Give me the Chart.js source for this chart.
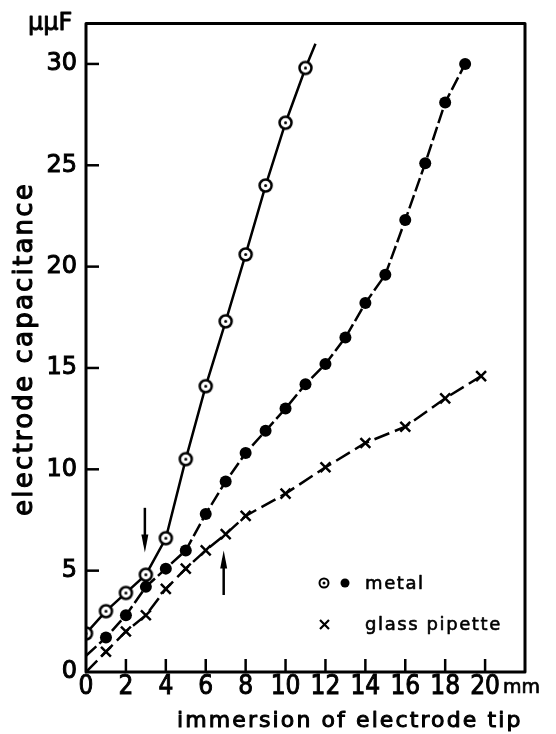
<!DOCTYPE html>
<html>
<head>
<meta charset="utf-8">
<script src="https://cdn.jsdelivr.net/npm/chart.js@4.4.1/dist/chart.umd.min.js"></script>
<style>
  html, body { margin: 0; padding: 0; background: #fff; }
</style>
</head>
<body>
<canvas id="myChart" width="556" height="734"></canvas>
<script>
// data (x in mm, y in µµF)
const openX = [0, 1, 2, 3, 4, 5, 6, 7, 8, 9, 10, 11, 11.5]
const openY = [1.9, 3.0, 3.9, 4.8, 6.6, 10.5, 14.1, 17.3, 20.6, 24.0, 27.1, 29.8, 31.0]
const openMarked = [1, 1, 1, 1, 1, 1, 1, 1, 1, 1, 1, 1, 0]

const dotX = [0, 1, 2, 3, 4, 5, 6, 7, 8, 9, 10, 11, 12, 13, 14, 15, 16, 17, 18, 19]
const dotY = [0.8, 1.7, 2.8, 4.2, 5.1, 6.0, 7.8, 9.4, 10.8, 11.9, 13.0, 14.2, 15.2, 16.5, 18.2, 19.6, 22.3, 25.1, 28.1, 30.0]
const dotMarked = [0, 1, 1, 1, 1, 1, 1, 1, 1, 1, 1, 1, 1, 1, 1, 1, 1, 1, 1, 1]

const glassX = [0, 1, 2, 3, 4, 5, 6, 7, 8, 10, 12, 14, 16, 18, 19.8]
const glassY = [0, 1.0, 2.0, 2.8, 4.1, 5.1, 6.0, 6.8, 7.7, 8.8, 10.1, 11.3, 12.1, 13.5, 14.6]
const glassMarked = [0, 1, 1, 1, 1, 1, 1, 1, 1, 1, 1, 1, 1, 1, 1]

const xTicks = [0, 2, 4, 6, 8, 10, 12, 14, 16, 18, 20]
const yTicks = [0, 5, 10, 15, 20, 25, 30]

// arrows: [x, yFrom, yTo]
const arrows = [[2.95, 8.1, 5.9], [6.9, 3.8, 6.0]]

function ringDot(r, lw) {
  const c = document.createElement('canvas')
  c.width = c.height = 2 * r + 5
  const g = c.getContext('2d')
  const m = c.width / 2
  g.beginPath()
  g.arc(m, m, r, 0, 2 * Math.PI)
  g.fillStyle = '#fff'
  g.fill()
  g.lineWidth = lw
  g.strokeStyle = '#000'
  g.stroke()
  g.beginPath()
  g.arc(m, m, 1.5, 0, 2 * Math.PI)
  g.fillStyle = '#000'
  g.fill()
  return c
}
const ring = ringDot(6, 2.5)
const ringSmall = ringDot(4.5, 2)

function pts(xs, ys) {
  return xs.map((x, i) => ({ x: x, y: ys[i] }))
}

function heavyText(ctx, s, x, y, sw) {
  ctx.fillText(s, x, y)
  ctx.lineWidth = sw
  ctx.strokeText(s, x, y)
}

const decor = {
  id: 'decor',
  afterDraw(chart) {
    const ctx = chart.ctx
    const a = chart.chartArea
    const xs = chart.scales.x
    const ys = chart.scales.y
    ctx.save()
    ctx.strokeStyle = '#000'
    ctx.fillStyle = '#000'
    ctx.lineJoin = 'round'

    // frame
    ctx.lineWidth = 3
    ctx.strokeRect(a.left, a.top, a.right - a.left, a.bottom - a.top)

    // inward ticks
    ctx.lineWidth = 2.5
    yTicks.forEach(v => {
      if (v === 0) return
      const p = ys.getPixelForValue(v)
      ctx.beginPath(); ctx.moveTo(a.left, p); ctx.lineTo(a.left + 13, p); ctx.stroke()
    })
    xTicks.forEach(v => {
      if (v === 0) return
      const p = xs.getPixelForValue(v)
      ctx.beginPath(); ctx.moveTo(p, a.bottom); ctx.lineTo(p, a.bottom - 13); ctx.stroke()
    })

    // arrows
    arrows.forEach(ar => {
      const px = xs.getPixelForValue(ar[0])
      const y1 = ys.getPixelForValue(ar[1])
      const y2 = ys.getPixelForValue(ar[2])
      const dir = y2 > y1 ? 1 : -1
      ctx.lineWidth = 2.5
      ctx.beginPath(); ctx.moveTo(px, y1); ctx.lineTo(px, y2 - dir * 8); ctx.stroke()
      ctx.beginPath()
      ctx.moveTo(px, y2)
      ctx.lineTo(px - 3.5, y2 - dir * 18)
      ctx.lineTo(px + 3.5, y2 - dir * 18)
      ctx.closePath()
      ctx.fill()
    })

    // legend
    ctx.drawImage(ringSmall, 324 - ringSmall.width / 2, 583 - ringSmall.height / 2)
    ctx.beginPath(); ctx.arc(345, 583, 4.5, 0, 2 * Math.PI); ctx.fill()
    ctx.lineWidth = 2.2
    ctx.beginPath()
    ctx.moveTo(320, 620); ctx.lineTo(329, 629)
    ctx.moveTo(329, 620); ctx.lineTo(320, 629)
    ctx.stroke()
    ctx.font = '18px "DejaVu Sans"'
    ctx.letterSpacing = '1.6px'
    ctx.textBaseline = 'alphabetic'
    ctx.textAlign = 'left'
    heavyText(ctx, 'metal', 365, 589, 0.6)
    heavyText(ctx, 'glass pipette', 365, 630, 0.6)

    // unit labels
    ctx.letterSpacing = '0px'
    ctx.font = '24px "DejaVu Sans"'
    heavyText(ctx, 'µµF', 28, 30, 0.9)
    ctx.font = '19px "DejaVu Sans"'
    heavyText(ctx, 'mm', 503, 693, 0.7)

    // axis titles
    ctx.font = '22px "DejaVu Sans"'
    ctx.letterSpacing = '2.1px'
    heavyText(ctx, 'immersion of electrode tip', 177, 727, 1)
    ctx.save()
    ctx.translate(32, 349)
    ctx.rotate(-Math.PI / 2)
    ctx.textAlign = 'center'
    ctx.font = '26px "DejaVu Sans"'
    ctx.letterSpacing = '2.2px'
    heavyText(ctx, 'electrode capacitance', 0, 0, 1.1)
    ctx.restore()

    ctx.restore()
  }
}

const ctx = document.getElementById('myChart')
new Chart(ctx, {
  type: 'line',
  data: {
    datasets: [
      {
        label: 'metal (open)',
        data: pts(openX, openY),
        borderColor: '#000',
        borderWidth: 2.5,
        pointStyle: ring,
        pointRadius: openMarked.map(m => m ? 6 : 0),
        tension: 0
      },
      {
        label: 'metal (filled)',
        data: pts(dotX, dotY),
        borderColor: '#000',
        borderWidth: 2.5,
        borderDash: [14, 4],
        pointStyle: 'circle',
        pointRadius: dotMarked.map(m => m ? 6 : 0),
        pointBackgroundColor: '#000',
        pointBorderWidth: 0,
        tension: 0
      },
      {
        label: 'glass pipette',
        data: pts(glassX, glassY),
        borderColor: '#000',
        borderWidth: 2.5,
        borderDash: [16, 6],
        pointStyle: 'crossRot',
        pointRadius: glassMarked.map(m => m ? 7 : 0),
        pointBorderColor: '#000',
        pointBorderWidth: 2.5,
        tension: 0
      }
    ]
  },
  options: {
    responsive: false,
    animation: false,
    devicePixelRatio: 1,
    layout: { padding: { top: 22, right: 31, left: 0, bottom: 0 } },
    plugins: { legend: { display: false }, tooltip: { enabled: false } },
    scales: {
      x: {
        type: 'linear',
        min: 0,
        max: 22,
        afterBuildTicks: s => { s.ticks = xTicks.map(v => ({ value: v })) },
        afterFit: s => { s.height = 62 },
        grid: { display: false, drawTicks: false },
        border: { display: false },
        ticks: {
          color: '#000',
          padding: 0,
          maxRotation: 0,
          textStrokeColor: '#000',
          textStrokeWidth: 0.9,
          font: { family: '"DejaVu Sans Condensed", "DejaVu Sans"', size: 26 }
        }
      },
      y: {
        type: 'linear',
        min: 0,
        max: 32,
        afterBuildTicks: s => { s.ticks = yTicks.map(v => ({ value: v })) },
        afterFit: s => { s.width = 86 },
        grid: { display: false, drawTicks: false },
        border: { display: false },
        ticks: {
          color: '#000',
          padding: 9,
          textStrokeColor: '#000',
          textStrokeWidth: 1,
          font: { family: '"DejaVu Sans"', size: 24 }
        }
      }
    }
  },
  plugins: [decor]
})
</script>
</body>
</html>
